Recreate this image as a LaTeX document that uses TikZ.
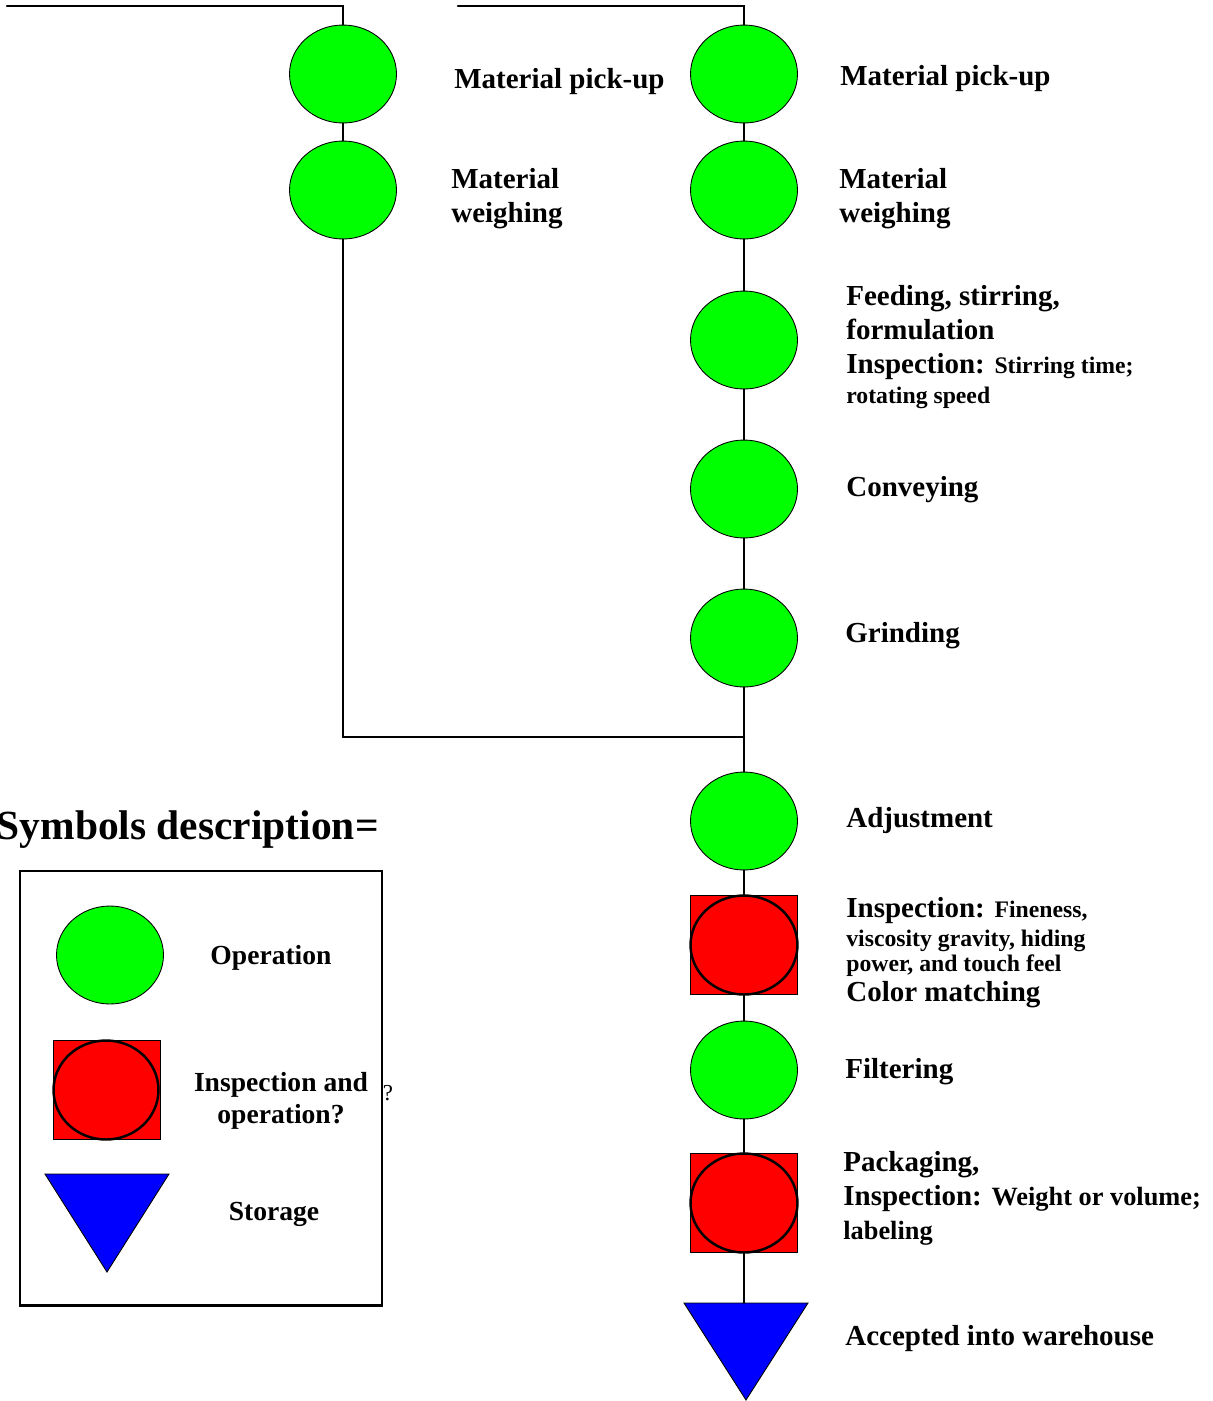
\documentclass[tikz,border=0pt]{standalone}
\usepackage{fontspec}
\setmainfont{Liberation Serif}
\usepackage{tikz}
\usetikzlibrary{shapes.geometric}
\newcommand{\detailtext}[1]{{\fontsize{13.5}{17}\selectfont #1}}
\newcommand{\packtext}[1]{{\fontsize{15}{18}\selectfont #1}}

\begin{document}
\begin{tikzpicture}
		[x=0.02cm,y=-0.02cm,line cap=round,
		%Styles
		flow/.style={line width=1.5pt},
		op node/.style={ellipse,fill=opgreen,draw,line width=.5pt,inner sep=0pt,minimum width=2.14cm,minimum height=1.96cm},
		insp box/.style={rectangle,fill=inspred,draw,line width=.4pt,inner sep=0pt,minimum width=2.14cm,minimum height=1.98cm},
		insp ring/.style={ellipse,draw,line width=1.4pt,inner sep=0pt,minimum width=2.14cm,minimum height=1.98cm},
		storage/.style={fill=storeblue,draw,line width=.5pt},
		step text/.style={anchor=west,align=left,inner sep=0pt,font=\fontsize{16.5}{19.3}\selectfont\bfseries},
		key text/.style={align=center,inner sep=0pt,font=\fontsize{15.7}{18.6}\selectfont\bfseries}
		]
		
		%Colors
		\colorlet{opgreen}{green}
		\colorlet{inspred}{red}
		\colorlet{storeblue}{blue}
		
		\useasboundingbox (0,0) rectangle (1213,1401);
		
		%left branch
		\coordinate (lstart) at (7,6);
		\node[op node] (l1) at (343,74) {};
		\node[op node] (l2) at (343,190) {};
		
		%main line
		\coordinate (rstart) at (458,6);
		\node[op node] (r1) at (744,74) {};
		\node[op node] (r2) at (744,190) {};
		\node[op node] (r3) at (744,340) {};
		\node[op node] (r4) at (744,489) {};
		\node[op node] (r5) at (744,638) {};
		\coordinate (join) at (744,737);
		\node[op node] (r6) at (744,821) {};
		\node[insp box] (r7box) at (744,945) {};
		\node[insp ring] (r7) at (744,945) {};
		\node[op node] (r8) at (744,1070) {};
		\node[insp box] (r9box) at (744,1203) {};
		\node[insp ring] (r9) at (744,1203) {};
		\draw[storage] (684,1303) -- (808,1303) -- (746,1400) -- cycle;
		\coordinate (r10) at (744,1303);
		
		\draw[flow] (lstart) -| (l1);
		\draw[flow] (rstart) -| (r1);
		\draw[flow] (l2) |- (join);
		\path[flow]
			(l1) edge (l2)
			(r1) edge (r2)
			(r2) edge (r3)
			(r3) edge (r4)
			(r4) edge (r5)
			(r5) edge (r6)
			(r6) edge (r7)
			(r7) edge (r8)
			(r8) edge (r9)
			(r9) edge (r10);
		
		%step labels
		\node[step text] (tl1) at (454,82) {Material pick-up};
		\node[step text] (tl2) at (451,199) {Material\\weighing};
		\node[step text] (t1) at (840,79) {Material pick-up};
		\node[step text] (t2) at (839,199) {Material\\weighing};
		\node[step text] (t3) at (846,347) {Feeding, stirring,\\formulation\\Inspection: \detailtext{Stirring time;}\\[-2pt]\detailtext{rotating speed}};
		\node[step text] (t4) at (846,490) {Conveying};
		\node[step text] (t5) at (845,636) {Grinding};
		\node[step text] (t6) at (846,821) {Adjustment};
		\node[step text] (t7) at (846,953) {Inspection: \detailtext{Fineness,}\\[-3pt]\detailtext{viscosity gravity, hiding}\\[-5pt]\detailtext{power, and touch feel}\\[-2pt]Color matching};
		\node[step text] (t8) at (845,1072) {Filtering};
		\node[step text] (t9) at (843,1198) {Packaging,\\Inspection: \packtext{Weight or volume;}\\\packtext{labeling}};
		\node[step text] (t10) at (845,1339) {Accepted into warehouse};
		
		%symbols description
		\node[anchor=east,inner sep=0pt,font=\fontsize{23.6}{28}\selectfont\bfseries] (keytitle) at (379,830) {Symbols description=};
		\node[draw,line width=1.2pt,minimum width=7.24cm,minimum height=8.7cm] (legend) at (201,1088) {};
		\node[op node] (kop) at (110,955) {};
		\node[insp box] (kinspbox) at (107,1090) {};
		\node[insp ring,minimum width=2.1cm] (kinsp) at (106,1090) {};
		\draw[storage] (45,1174) -- (169,1174) -- (107,1272) -- cycle;
		\node[key text] (kt1) at (271,958) {Operation};
		\node[key text] (kt2) at (281,1101) {Inspection and\\operation?};
		\node[key text] (kt3) at (274,1214) {Storage};
		\node[inner sep=0pt,font=\fontsize{13}{15}\selectfont] (kq) at (388,1093) {?};
	\end{tikzpicture}
\end{document}
